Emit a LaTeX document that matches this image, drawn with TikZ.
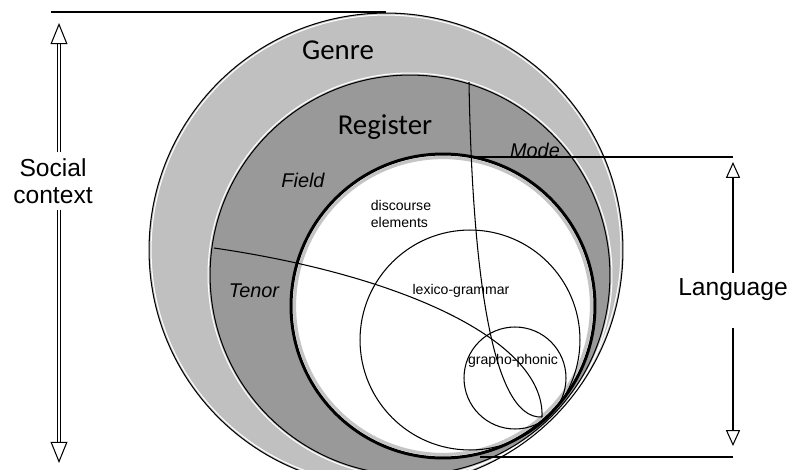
\documentclass[tikz,border=0pt]{standalone}
\usepackage{fontspec}
\setmainfont{Liberation Sans}
\newfontfamily\titlefont{Carlito}
\usetikzlibrary{arrows.meta,positioning}
\definecolor{genregray}{HTML}{C0C0C0}
\definecolor{reggray}{HTML}{999999}
\definecolor{shadegray}{HTML}{C4C4C4}
\tikzset{
	ring/.style={draw=black, line width=0.6pt},
	thickring/.style={draw=black, line width=1.7pt},
	divider/.style={color=black, line width=0.6pt},
	guide/.style={color=black, line width=0.6pt},
	bigtitle/.style={font=\titlefont\fontsize{16.4}{19}\selectfont, inner sep=0},
	sidelabel/.style={font=\fontsize{14}{15.3}\selectfont, align=center},
	partlabel/.style={font=\itshape\fontsize{11.3}{13}\selectfont, inner sep=0},
	smalllabel/.style={font=\fontsize{8}{9.2}\selectfont, align=left, inner sep=0},
	socarrow/.style={double, double distance=1pt, line width=0.6pt, -{Triangle[open, length=12pt, width=9.6pt, line width=0.6pt]}},
	langarrow/.style={line width=1.1pt, -{Triangle[open, length=9pt, width=8pt, line width=0.6pt]}}
}
\begin{document}
\begin{tikzpicture}[x=0.02cm, y=-0.02cm]
	\useasboundingbox (0,0) rectangle (792,470);
	\clip (0,0) rectangle (792,470);
	
	%%%% centres
	\coordinate (cGenre) at (386,250);
	\coordinate (cReg) at (410,275);
	\coordinate (cLang) at (443,306);
	\coordinate (cLex) at (470,340);
	\coordinate (cGraph) at (515,378);
	
	%%%% genre and register
	\fill[genregray] (cGenre) circle[radius=4.74cm];
	\draw[white, line width=0.6pt] (cGenre) circle[radius=4.70cm];
	\draw[white, line width=0.6pt] (cReg) circle[radius=4.04cm];
	\fill[reggray] (cReg) circle[radius=4cm];
	\draw[ring] (cGenre) circle[radius=4.74cm];
	\draw[ring] (cReg) circle[radius=4cm];
	
	%%%% language
	\fill[white] (cLang) circle[radius=3.04cm];
	\draw[shadegray, line width=1.8pt] (cLang) circle[radius=2.97cm];
	\draw[ring] (cLex) circle[radius=2.2cm];
	\draw[ring] (cGraph) circle[radius=1.02cm];
	
	%%%% field/tenor and mode
	\coordinate (divA) at (214,248);
	\coordinate (divB) at (469,82);
	\coordinate (divEnd) at (542,417);
	\draw[divider] (divA) .. controls (400,275) and (545,340) .. (divEnd);
	\draw[divider] (divB) .. controls (472,260) and (490,420) .. (divEnd);
	\draw[thickring] (cLang) circle[radius=3.04cm];
	
	%%%% labels
	\node[bigtitle] (genre) at (338,50) {Genre};
	\node[bigtitle] (register) at (385,127) {Register};
	\node[partlabel] (field) at (303,180) {Field};
	\node[partlabel] (mode) at (535,150) {Mode};
	\node[partlabel] (tenor) at (254,291) {Tenor};
	\node[smalllabel] (discourse) at (401,214) {discourse\\elements};
	\node[smalllabel] (lexico) at (461,291) {lexico-grammar};
	\node[smalllabel] (grapho) at (513,361) {grapho-phonic};
	
	%%%% side arrows
	\coordinate (topL) at (51,12);
	\coordinate (socTop) at (59,23);
	\coordinate (socBot) at (59,463);
	\node[sidelabel] (social) at (53,181) {Social\\context};
	\draw[guide] (topL) -- (topL -| cGenre);
	\draw[socarrow] (social.north -| socTop) -- (socTop);
	\draw[socarrow] (social.south -| socBot) -- (socBot);
	
	\coordinate (langTopL) at (470,157);
	\coordinate (langBotL) at (480,457);
	\coordinate (langTop) at (733,162);
	\coordinate (langBot) at (733,446);
	\node[sidelabel] (language) at (733,290) {Language};
	\draw[guide] (langTopL) -- (langTopL -| langTop);
	\draw[guide] (langBotL) -- (langBotL -| langBot);
	\draw[langarrow] (language.north) -- (langTop);
	\draw[langarrow] ([yshift=-12pt]language.south) -- (langBot);
\end{tikzpicture}
\end{document}
